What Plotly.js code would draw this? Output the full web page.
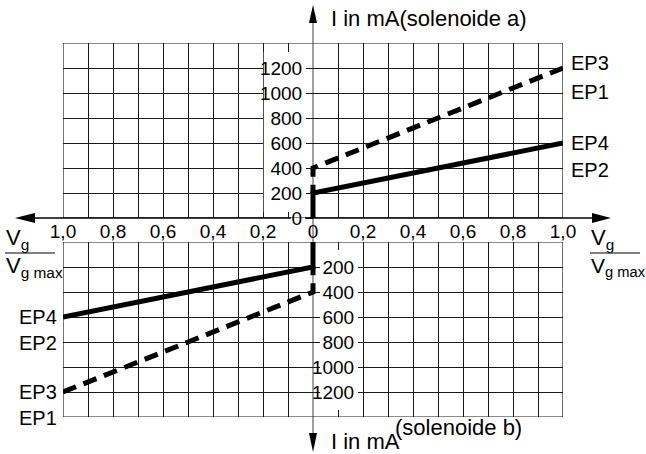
<!DOCTYPE html>
<html><head><meta charset="utf-8">
<script src="https://cdn.plot.ly/plotly-3.0.1.min.js"></script>
<style>html,body{margin:0;padding:0;background:#fff}</style>
</head><body><div id="chart" style="width:646px;height:454px"></div>
<script>
// ---- data ----
// solenoide a (right half, upper)
const ratioA_EP24 = [0, 0, 1];
const currentA_EP24 = [0, 200, 600];
const ratioA_EP13 = [1, 0, 0];
const currentA_EP13 = [1200, 400, 200];
// solenoide b (left half, lower) - x drawn negative to the left
const ratioB_EP24 = [0, 0, -1];
const currentB_EP24 = [0, 200, 600];
const ratioB_EP13 = [-1, 0, 0];
const currentB_EP13 = [1200, 400, 200];

const xTickVals = [-1, -0.8, -0.6, -0.4, -0.2, 0, 0.2, 0.4, 0.6, 0.8, 1];
const xTickText = ['1,0', '0,8', '0,6', '0,4', '0,2', '0', '0,2', '0,4', '0,6', '0,8', '1,0'];
const xGridVals = [-1, -0.9, -0.8, -0.7, -0.6, -0.5, -0.4, -0.3, -0.2, -0.1, 0.1, 0.2, 0.3, 0.4, 0.5, 0.6, 0.7, 0.8, 0.9, 1];
const yTickA = [0, 200, 400, 600, 800, 1000, 1200];
const yTickB = [200, 400, 600, 800, 1000, 1200];
const labelsRight = ['EP3', 'EP1', 'EP4', 'EP2'];
const labelsLeft = ['EP4', 'EP2', 'EP3', 'EP1'];
const titleA = 'I in mA(solenoide a)';
const titleB1 = 'I in mA';
const titleB2 = '(solenoide b)';

// ---- geometry ----
const W = 646, H = 454, L = 63, R = 83, T = 43, B = 37;
const PW = W - L - R, PH = H - T - B;
const px = x => (x - L) / PW;
const py = y => (H - B - y) / PH;

const FONT = '"Liberation Sans", Arial, sans-serif';
const GRID = '#1a1a1a';
const INK = '#000';

const solid = {color: INK, width: 5};
const dashed = {color: INK, width: 5, dash: '14px,8px'};

const traces = [
  {x: ratioA_EP24, y: currentA_EP24, xaxis: 'x', yaxis: 'y', mode: 'lines', line: solid, cliponaxis: false, hoverinfo: 'skip'},
  {x: ratioA_EP13, y: currentA_EP13, xaxis: 'x', yaxis: 'y', mode: 'lines', line: dashed, cliponaxis: false, hoverinfo: 'skip'},
  {x: ratioB_EP24, y: currentB_EP24, xaxis: 'x2', yaxis: 'y2', mode: 'lines', line: solid, cliponaxis: false, hoverinfo: 'skip'},
  {x: ratioB_EP13, y: currentB_EP13, xaxis: 'x2', yaxis: 'y2', mode: 'lines', line: dashed, cliponaxis: false, hoverinfo: 'skip'}
];

const minorGrid = {tickmode: 'array', tickvals: xGridVals, showgrid: true, gridcolor: GRID, gridwidth: 1, ticks: ''};

const layout = {
  width: W, height: H,
  margin: {l: L, r: R, t: T, b: B, pad: 0},
  paper_bgcolor: '#fff', plot_bgcolor: 'rgba(0,0,0,0)',
  showlegend: false,
  font: {family: FONT, color: INK, size: 19},
  xaxis: {domain: [0, 1], range: [-1, 1], anchor: 'y', tickmode: 'array', tickvals: xTickVals, ticktext: xTickText,
    showgrid: false, zeroline: false, showline: false, ticks: '', tickfont: {size: 19, color: INK}, minor: minorGrid, fixedrange: true},
  xaxis2: {domain: [0, 1], range: [-1, 1], anchor: 'y2', tickmode: 'array', tickvals: xTickVals, showticklabels: false,
    showgrid: false, zeroline: false, showline: false, ticks: '', minor: minorGrid, fixedrange: true},
  yaxis: {domain: [py(218), 1], range: [0, 1400], anchor: 'free', position: 0.5, side: 'left', tickmode: 'array', tickvals: yTickA,
    showgrid: true, gridcolor: GRID, gridwidth: 1, zeroline: false, showline: false, ticks: 'outside', ticklen: 7, tickcolor: GRID,
    tickfont: {size: 19, color: INK}, fixedrange: true},
  yaxis2: {domain: [0, py(242)], range: [1400, 0], anchor: 'free', position: px(363), side: 'left', tickmode: 'array', tickvals: yTickB,
    showgrid: true, gridcolor: GRID, gridwidth: 1, zeroline: false, showline: false, ticks: 'outside', ticklen: 5, tickcolor: GRID,
    tickfont: {size: 19, color: INK}, fixedrange: true},
  shapes: [
    // label columns (hide grid behind tick labels)
    {type: 'rect', xref: 'x', yref: 'y', x0: -0.197, x1: -0.012, y0: 48, y1: 1328, fillcolor: '#fff', line: {width: 0}, layer: 'between'},
    {type: 'rect', xref: 'x2', yref: 'y2', x0: 0.028, x1: 0.197, y0: 64, y1: 1344, fillcolor: '#fff', line: {width: 0}, layer: 'between'},
    // frames
    {type: 'rect', xref: 'x', yref: 'y', x0: -1, x1: 1, y0: 0, y1: 1400, line: {color: GRID, width: 1.2}, layer: 'below'},
    {type: 'rect', xref: 'x2', yref: 'y2', x0: -1, x1: 1, y0: 0, y1: 1400, line: {color: GRID, width: 1.2}, layer: 'below'},
    // central current axis (gray)
    {type: 'line', xref: 'paper', yref: 'paper', x0: px(313), x1: px(313), y0: py(21), y1: py(435), line: {color: '#808080', width: 1.5}, layer: 'below'},
    // horizontal ratio axis
    {type: 'line', xref: 'paper', yref: 'paper', x0: px(33), x1: px(291), y0: py(218), y1: py(218), line: {color: INK, width: 1.5}, layer: 'above'},
    {type: 'line', xref: 'paper', yref: 'paper', x0: px(305), x1: px(594), y0: py(218), y1: py(218), line: {color: INK, width: 1.5}, layer: 'above'},
    // arrowheads
    {type: 'path', xref: 'paper', yref: 'paper', path: `M ${px(15)},${py(218)} L ${px(35)},${py(213)} L ${px(35)},${py(223)} Z`, fillcolor: INK, line: {width: 0}, layer: 'above'},
    {type: 'path', xref: 'paper', yref: 'paper', path: `M ${px(611)},${py(218)} L ${px(592)},${py(213)} L ${px(592)},${py(223)} Z`, fillcolor: INK, line: {width: 0}, layer: 'above'},
    {type: 'path', xref: 'paper', yref: 'paper', path: `M ${px(313)},${py(5)} L ${px(309)},${py(23)} L ${px(317)},${py(23)} Z`, fillcolor: INK, line: {width: 0}, layer: 'above'},
    {type: 'path', xref: 'paper', yref: 'paper', path: `M ${px(313)},${py(452)} L ${px(309)},${py(433)} L ${px(317)},${py(433)} Z`, fillcolor: INK, line: {width: 0}, layer: 'above'},
    // fraction bars
    {type: 'line', xref: 'paper', yref: 'paper', x0: px(5), x1: px(55), y0: py(253), y1: py(253), line: {color: INK, width: 1}, layer: 'above'},
    {type: 'line', xref: 'paper', yref: 'paper', x0: px(590), x1: px(640), y0: py(253), y1: py(253), line: {color: INK, width: 1}, layer: 'above'}
  ],
  annotations: []
};

const ann = (text, x, y, xanchor, size) => ({text, x: px(x), y: py(y), xref: 'paper', yref: 'paper', xanchor, yanchor: 'middle',
  showarrow: false, font: {family: FONT, size: size, color: INK}, borderpad: 0});

layout.annotations.push(ann(titleA, 330, 19, 'left', 22));
layout.annotations.push(ann(titleB1, 330, 441, 'left', 22));
layout.annotations.push(ann(titleB2, 394, 428, 'left', 22));
layout.annotations.push(ann('V<sub>g</sub>', 5, 239, 'left', 22));
layout.annotations.push(ann('V<sub>g max</sub>', 5, 267, 'left', 22));
layout.annotations.push(ann('V<sub>g</sub>', 590, 239, 'left', 22));
layout.annotations.push(ann('V<sub>g max</sub>', 590, 267, 'left', 21));
const rightY = [63, 92, 143, 170];
labelsRight.forEach((t, i) => layout.annotations.push(ann(t, 570, rightY[i], 'left', 20)));
const leftY = [317, 343, 392, 418];
labelsLeft.forEach((t, i) => layout.annotations.push(ann(t, 58, leftY[i], 'right', 20)));

Plotly.newPlot('chart', traces, layout, {staticPlot: true, displayModeBar: false});
</script></body></html>
